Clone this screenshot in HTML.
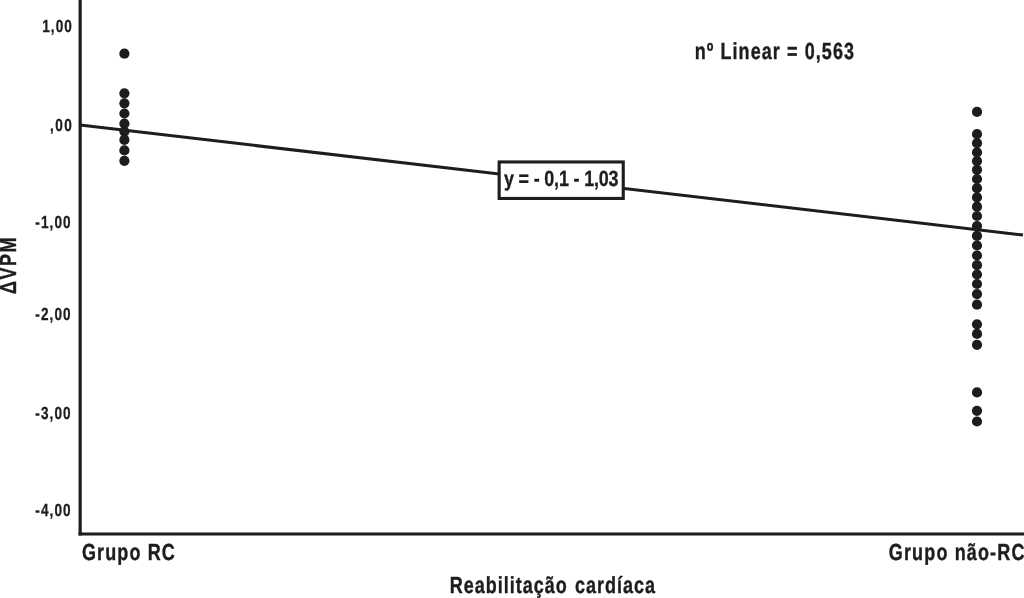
<!DOCTYPE html>
<html lang="pt">
<head>
<meta charset="utf-8">
<title>ΔVPM × Reabilitação cardíaca</title>
<style>
html,body{margin:0;padding:0;background:#fff;}
body{width:1024px;height:598px;overflow:hidden;}
svg{display:block;}
text{font-family:"Liberation Sans",sans-serif;font-weight:700;fill:#1d1d1b;stroke:#1d1d1b;stroke-linejoin:miter;text-rendering:geometricPrecision;}
text.tick{font-size:17.5px;stroke-width:0.3px;}
text.lbl{font-size:23.2px;stroke-width:0.4px;}
text.eq{font-size:22px;stroke-width:0.3px;}
line,rect{stroke:#1d1d1b;fill:none;}
.equation rect{fill:#fff;}
circle{fill:#1d1d1b;}
</style>
</head>
<body>
<svg width="1024" height="598" viewBox="0 0 1024 598">
<g class="axes">
<line x1="80.15" y1="0" x2="80.15" y2="535.6" stroke-width="3.2"/>
<line x1="78.55" y1="534" x2="1024" y2="534" stroke-width="3.2"/>
</g>
<g class="yticks">
<text class="tick" transform="translate(42.2 32) scale(0.775 1)" letter-spacing="1.369">1,00</text>
<text class="tick" transform="translate(50.11 131) scale(0.775 1)" letter-spacing="1.797">,00</text>
<text class="tick" transform="translate(35.31 228) scale(0.775 1)" letter-spacing="1.394">-1,00</text>
<text class="tick" transform="translate(35.31 320) scale(0.775 1)" letter-spacing="1.394">-2,00</text>
<text class="tick" transform="translate(35.31 419) scale(0.775 1)" letter-spacing="1.394">-3,00</text>
<text class="tick" transform="translate(35.31 516) scale(0.775 1)" letter-spacing="1.394">-4,00</text>
</g>
<line class="fit" x1="80" y1="125.1" x2="1023" y2="235" stroke-width="3"/>
<g class="points rc">
<circle cx="124.4" cy="53.7" r="5.1"/>
<circle cx="124.4" cy="93.3" r="5.1"/>
<circle cx="124.4" cy="103.3" r="5.1"/>
<circle cx="124.4" cy="113.5" r="5.1"/>
<circle cx="124.4" cy="123.7" r="5.1"/>
<circle cx="124.4" cy="131.6" r="5.1"/>
<circle cx="124.4" cy="139.9" r="5.1"/>
<circle cx="124.4" cy="150.4" r="5.1"/>
<circle cx="124.4" cy="160.8" r="5.1"/>
</g>
<g class="points nao-rc">
<circle cx="977" cy="111.9" r="5.1"/>
<circle cx="977" cy="134.1" r="5.1"/>
<circle cx="977" cy="143.2" r="5.1"/>
<circle cx="977" cy="152.4" r="5.1"/>
<circle cx="977" cy="161.1" r="5.1"/>
<circle cx="977" cy="169.8" r="5.1"/>
<circle cx="977" cy="179" r="5.1"/>
<circle cx="977" cy="188.2" r="5.1"/>
<circle cx="977" cy="197.4" r="5.1"/>
<circle cx="977" cy="206.7" r="5.1"/>
<circle cx="977" cy="216" r="5.1"/>
<circle cx="977" cy="226" r="5.1"/>
<circle cx="977" cy="235.9" r="5.1"/>
<circle cx="977" cy="245.5" r="5.1"/>
<circle cx="977" cy="255.5" r="5.1"/>
<circle cx="977" cy="265.2" r="5.1"/>
<circle cx="977" cy="274.5" r="5.1"/>
<circle cx="977" cy="284" r="5.1"/>
<circle cx="977" cy="294.1" r="5.1"/>
<circle cx="977" cy="304.7" r="5.1"/>
<circle cx="977" cy="324.3" r="5.1"/>
<circle cx="977" cy="333.9" r="5.1"/>
<circle cx="977" cy="344.8" r="5.1"/>
<circle cx="977" cy="392.4" r="5.1"/>
<circle cx="977" cy="410.8" r="5.1"/>
<circle cx="977" cy="421.5" r="5.1"/>
</g>
<g class="equation">
<rect x="499.15" y="161.95" width="124.1" height="36.5" stroke-width="3.1"/>
<text class="eq" transform="translate(503.96 186) scale(0.815 1)" letter-spacing="-0.205">y = - 0,1 - 1,03</text>
</g>
<g class="labels">
<text class="lbl" transform="translate(694.68 59) scale(0.775 1)" letter-spacing="1.401">nº Linear = 0,563</text>
<text class="lbl" transform="translate(81.91 560) scale(0.775 1)" letter-spacing="1.476">Grupo RC</text>
<text class="lbl" transform="translate(888.81 560) scale(0.775 1)" letter-spacing="1.5">Grupo não-RC</text>
<text class="lbl" transform="translate(449.82 593) scale(0.775 1)" letter-spacing="1.309" word-spacing="1.5">Reabilitação cardíaca</text>
<text class="lbl" transform="translate(16.3 293.96) rotate(-90) scale(0.775 1)" letter-spacing="1.914">ΔVPM</text>
</g>
</svg>
</body>
</html>
